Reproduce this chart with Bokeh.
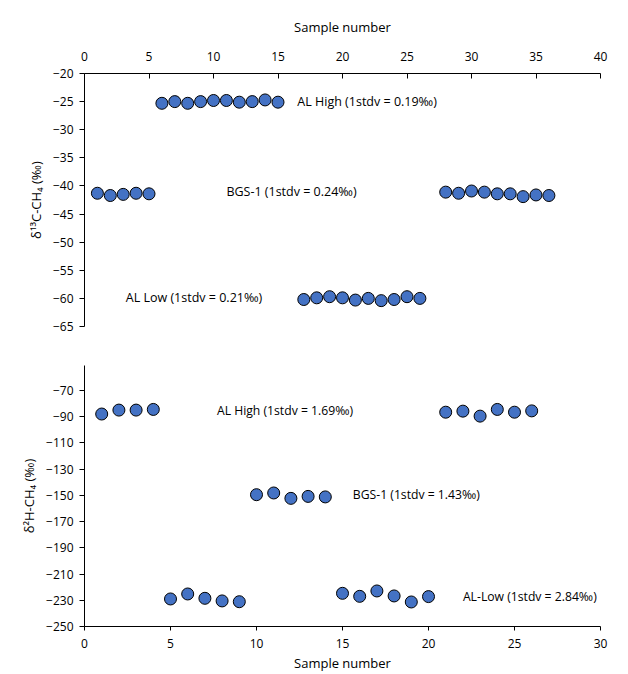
from bokeh.plotting import figure
from bokeh.models import Range1d, LinearAxis, FixedTicker, Label, ColumnDataSource
from bokeh.layouts import column
from bokeh.core.properties import value
from bokeh.embed import file_html
from bokeh.resources import INLINE

# ---------------- data: panel A (d13C-CH4) ----------------
a_high_x = [6, 7, 8, 9, 10, 11, 12, 13, 14, 15]
a_high_y = [-25.3, -25.0, -25.3, -25.0, -24.8, -24.8, -25.1, -25.0, -24.7, -25.1]
a_bgs_x = [1, 2, 3, 4, 5, 28, 29, 30, 31, 32, 33, 34, 35, 36]
a_bgs_y = [-41.3, -41.7, -41.5, -41.3, -41.4, -41.1, -41.3, -40.9, -41.1, -41.4, -41.4, -41.9, -41.6, -41.7]
a_low_x = [17, 18, 19, 20, 21, 22, 23, 24, 25, 26]
a_low_y = [-60.2, -59.9, -59.7, -59.9, -60.3, -60.0, -60.4, -60.2, -59.7, -60.0]
a_labels = ["AL High (1stdv = 0.19‰)", "BGS-1 (1stdv = 0.24‰)", "AL Low (1stdv = 0.21‰)"]
a_xticks = [0, 5, 10, 15, 20, 25, 30, 35, 40]
a_yticks = [-65, -60, -55, -50, -45, -40, -35, -30, -25, -20]

# ---------------- data: panel B (d2H-CH4) ----------------
b_high_x = [1, 2, 3, 4, 21, 22, 23, 24, 25, 26]
b_high_y = [-88.0, -85.0, -85.0, -84.5, -86.6, -85.8, -89.6, -84.5, -86.6, -85.6]
b_bgs_x = [10, 11, 12, 13, 14]
b_bgs_y = [-149.5, -148.2, -152.3, -150.8, -151.2]
b_low_x = [5, 6, 7, 8, 9, 15, 16, 17, 18, 19, 20]
b_low_y = [-229.0, -225.2, -228.5, -230.5, -231.1, -224.7, -227.0, -222.9, -226.7, -231.3, -227.2]
b_labels = ["AL High (1stdv = 1.69‰)", "BGS-1 (1stdv = 1.43‰)", "AL-Low (1stdv = 2.84‰)"]
b_xticks = [0, 5, 10, 15, 20, 25, 30]
b_yticks = [-250, -230, -210, -190, -170, -150, -130, -110, -90, -70]

FONT = "Open Sans"
FILL = "#4472C4"
TXT = "#000000"


def style_axis(ax, tick_in, tick_out):
    ax.axis_line_color = "#000000"
    ax.axis_line_width = 1
    ax.major_tick_line_color = "#000000"
    ax.major_tick_in = tick_in
    ax.major_tick_out = tick_out
    ax.minor_tick_line_color = None
    ax.major_label_text_font = FONT
    ax.major_label_text_font_size = "12px"
    ax.major_label_text_color = TXT
    ax.axis_label_text_font = FONT
    ax.axis_label_text_font_size = "13px"
    ax.axis_label_text_font_style = "normal"
    ax.axis_label_text_color = TXT


def base_fig(h, xr, yr, top, bottom):
    p = figure(width=628, height=h, output_backend="svg", toolbar_location=None,
               x_range=Range1d(*xr), y_range=Range1d(*yr),
               x_axis_location=None, y_axis_location=None,
               min_border_left=84, min_border_right=28,
               min_border_top=top, min_border_bottom=bottom)
    p.outline_line_color = None
    p.xgrid.visible = False
    p.ygrid.visible = False
    p.background_fill_color = "white"
    p.border_fill_color = "white"
    return p


def dots(p, xs, ys):
    p.scatter(xs, ys, size=12, marker="circle", fill_color=FILL,
              line_color="#000000", line_width=1)


# ---------------- panel A ----------------
pa = base_fig(338, (0, 40), (-65, -20), 73, 12)
xa = LinearAxis(axis_label="Sample number", ticker=FixedTicker(ticks=a_xticks))
style_axis(xa, 5, 0)
xa.major_label_standoff = 13
xa.axis_label_standoff = 13
pa.add_layout(xa, "above")
ya = LinearAxis(axis_label="δ¹³C-CH₄ (‰)", ticker=FixedTicker(ticks=a_yticks))
style_axis(ya, 0, 5)
ya.major_label_standoff = 6
ya.axis_label_standoff = 5
pa.add_layout(ya, "left")

dots(pa, a_high_x, a_high_y)
dots(pa, a_bgs_x, a_bgs_y)
dots(pa, a_low_x, a_low_y)

src_a = ColumnDataSource(dict(x=[16.5, 11.0, 3.2], y=[-25.0, -41.0, -59.8], t=a_labels))
pa.text(x="x", y="y", text="t", source=src_a, text_font=value(FONT),
        text_font_size="12.5px", text_align="left", text_baseline="middle", text_color=TXT)
pa.add_layout(Label(x=-3.6, y=-12.4, text="(A)", text_font=FONT, text_font_size="13px",
                    text_baseline="middle", text_align="left", text_color=TXT))

# ---------------- panel B ----------------
pb = base_fig(336, (0, 30), (-250, -51), 27, 46)
xb = LinearAxis(axis_label="Sample number", ticker=FixedTicker(ticks=b_xticks))
style_axis(xb, 0, 4)
xb.major_label_standoff = 8
xb.axis_label_standoff = 3
pb.add_layout(xb, "below")
yb = LinearAxis(axis_label="δ²H-CH₄ (‰)", ticker=FixedTicker(ticks=b_yticks))
style_axis(yb, 0, 5)
yb.major_label_standoff = 6
yb.axis_label_standoff = 5
pb.add_layout(yb, "left")

dots(pb, b_high_x, b_high_y)
dots(pb, b_bgs_x, b_bgs_y)
dots(pb, b_low_x, b_low_y)

src_b = ColumnDataSource(dict(x=[7.7, 15.6, 22.0], y=[-85.0, -149.5, -227.0], t=b_labels))
pb.text(x="x", y="y", text="t", source=src_b, text_font=value(FONT),
        text_font_size="12.2px", text_align="left", text_baseline="middle", text_color=TXT)
pb.add_layout(Label(x=-2.7, y=-51.0, text="(B)", text_font=FONT, text_font_size="13px",
                    text_baseline="middle", text_align="left", text_color=TXT))

layout = column(pa, pb, spacing=0)
open("out.html", "w").write(file_html(layout, INLINE))
